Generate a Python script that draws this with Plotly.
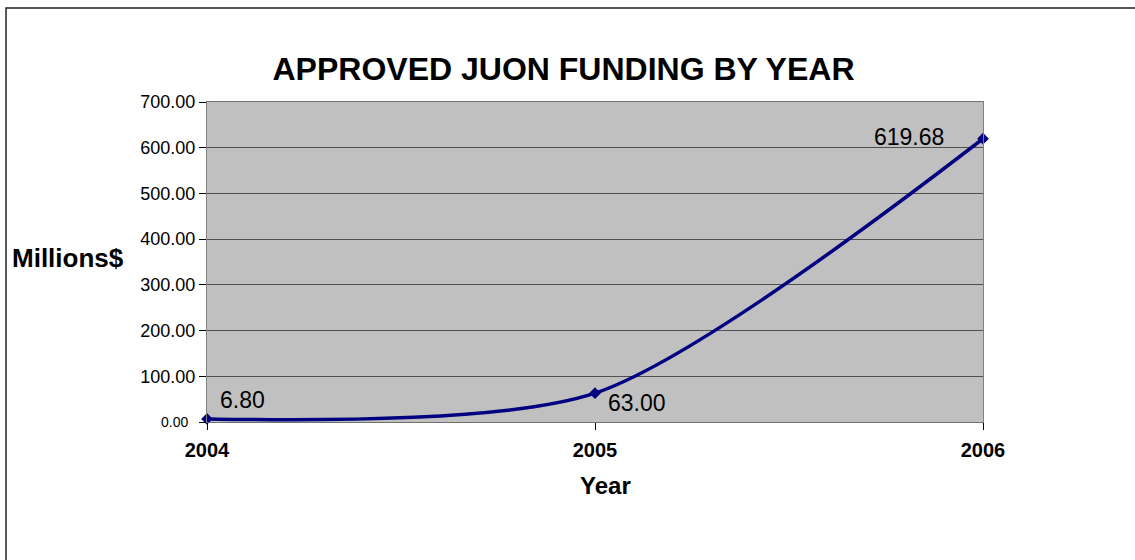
import plotly.graph_objects as go

years = [2004, 2005, 2006]
funding = [6.80, 63.00, 619.68]
labels = ["6.80", "63.00", "619.68"]
label_shifts = [(35, 19), (42, -10), (-74, 2)]

y_tick_vals = [0, 100, 200, 300, 400, 500, 600, 700]
y_tick_text = ["", "100.00", "200.00", "300.00", "400.00", "500.00", "600.00", "700.00"]
zero_label = "0.00"
x_tick_text = ["2004", "2005", "2006"]

FONT = "Liberation Sans, Arial, sans-serif"
L, R, T, B = 207, 983, 102, 422
PW, PH = R - L, B - T


def px(x):
    return (x - L) / PW


def py(y):
    return (B - y) / PH


fig = go.Figure()
fig.add_trace(go.Scatter(
    x=years, y=funding, mode="lines+markers",
    line=dict(color="#000080", width=3.5, shape="spline", smoothing=0.75),
    marker=dict(symbol="diamond", size=9, color="#000080"),
    showlegend=False, hoverinfo="x+y", cliponaxis=False,
))

for x, y, t, (dx, dy) in zip(years, funding, labels, label_shifts):
    fig.add_annotation(x=x, y=y, text=t, showarrow=False, xshift=dx, yshift=dy,
                       font=dict(family=FONT, size=23, color="black"))

fig.add_annotation(xref="paper", yref="y", x=0, y=0, xshift=-17, yshift=0,
                   xanchor="right", yanchor="middle", text=zero_label, showarrow=False,
                   font=dict(family=FONT, size=14, color="black"))

fig.add_annotation(xref="paper", yref="paper", x=px(10), y=py(258),
                   xanchor="left", yanchor="middle", text="<b>Millions$</b>", showarrow=False,
                   font=dict(family=FONT, size=26, color="black"))
fig.add_annotation(xref="paper", yref="paper", x=px(605), y=py(485),
                   xanchor="center", yanchor="middle", text="<b>Year</b>", showarrow=False,
                   font=dict(family=FONT, size=24, color="black"))

fig.add_shape(type="rect", xref="paper", yref="paper",
              x0=px(6), x1=px(1150), y0=py(580), y1=py(8),
              line=dict(color="#222222", width=1.5), fillcolor="rgba(0,0,0,0)", layer="below")

fig.update_layout(
    width=1135, height=560,
    margin=dict(l=L, r=1135 - R, t=T, b=560 - B, pad=0),
    paper_bgcolor="white", plot_bgcolor="#C0C0C0",
    title=dict(text="<b>APPROVED JUON FUNDING BY YEAR</b>", x=563.5 / 1135, xanchor="center",
               y=1 - 69 / 560, yanchor="middle", yref="container", xref="container",
               font=dict(family=FONT, size=32, color="black")),
    font=dict(family=FONT, color="black"),
    xaxis=dict(range=[2004, 2006], tickvals=years, ticktext=["<b>%s</b>" % t for t in x_tick_text],
               tickfont=dict(size=20, color="black"), ticks="outside", ticklen=7, tickcolor="black",
               ticklabelstandoff=3,
               showgrid=False, showline=True, linecolor="#707070", linewidth=1, mirror=True,
               zeroline=False),
    yaxis=dict(range=[0, 700], tickvals=y_tick_vals, ticktext=y_tick_text,
               tickfont=dict(size=18, color="black"),
               ticks="outside", ticklen=7, tickcolor="black",
               showgrid=True, gridcolor="#505050", gridwidth=1,
               showline=True, linecolor="#808080", linewidth=1, mirror=True, zeroline=False),
)

fig.write_html("out.html", post_script="document.body.style.margin='0';",
               config={"displayModeBar": False})
